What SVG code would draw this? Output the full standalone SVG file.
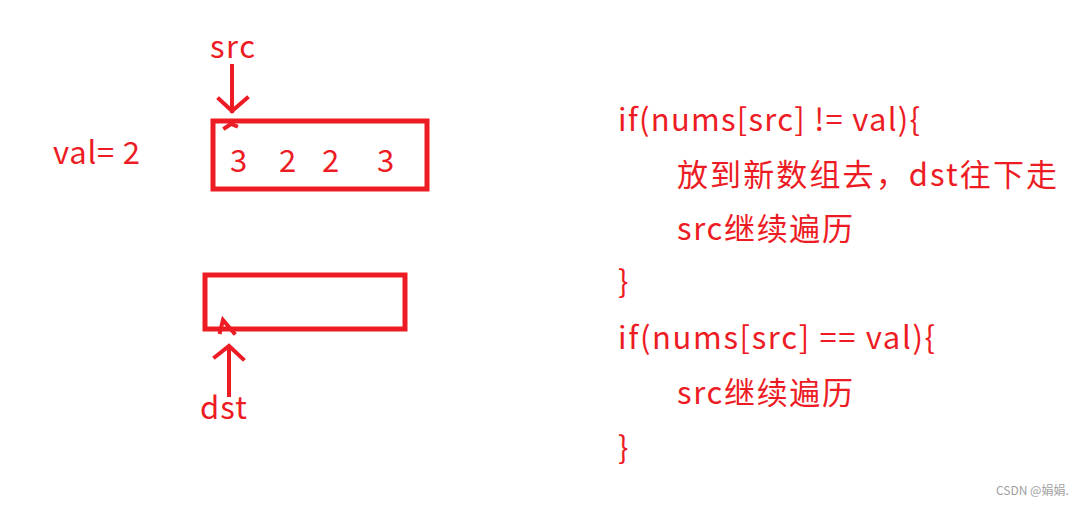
<svg xmlns="http://www.w3.org/2000/svg" width="1087" height="506" viewBox="0 0 1087 506">
<style>
.t{font-family:"Microsoft YaHei","Noto Sans CJK SC","Noto Sans",sans-serif;fill:#ed1c24;font-size:31px}
.s{fill:none;stroke:#ed1c24;stroke-width:4;stroke-linecap:square}
.b{fill:none;stroke:#ed1c24;stroke-width:5}
.w{font-family:"Noto Sans CJK SC","Liberation Sans",sans-serif;fill:#a0a0a0;font-size:12px}
</style>
<rect width="1087" height="506" fill="#fff"/>
<text class="t" x="53" y="164" textLength="87" lengthAdjust="spacing">val= 2</text>
<g id="src">
<text class="t" x="210" y="58" textLength="45" lengthAdjust="spacing">src</text>
</g>
<g id="array">
<rect class="b" x="213" y="121" width="214" height="68"/>
<text class="t" x="230" y="172">3</text>
<text class="t" x="279" y="172">2</text>
<text class="t" x="322" y="172">2</text>
<text class="t" x="377" y="172">3</text>
</g>
<g id="newarray">
<rect class="b" x="205" y="275" width="200" height="54"/>
</g>
<g id="dst">
<text class="t" x="200" y="419" textLength="47" lengthAdjust="spacing">dst</text>
</g>
<g id="connectors">
<path class="s" stroke-width="3" d="M232 66 V111 M219 99 L232 111 L247 98"/>
<path class="s" stroke-width="3" d="M225 128 L231 124 L236 126"/>
<path class="s" d="M229 395 V347 M215 357 L229 346 L243 359"/>
<path class="s" stroke-width="3" d="M220 332 L223 320 L234 333"/>
</g>
<g id="code">
<text class="t" x="618" y="131" textLength="302" lengthAdjust="spacing">if(nums[src] != val){</text>
<text class="t" x="677" y="186" textLength="380" lengthAdjust="spacing">放到新数组去，dst往下走</text>
<text class="t" x="677" y="240" textLength="176" lengthAdjust="spacing">src继续遍历</text>
<text class="t" x="618" y="293">}</text>
<text class="t" x="618" y="349" textLength="317" lengthAdjust="spacing">if(nums[src] == val){</text>
<text class="t" x="677" y="404" textLength="176" lengthAdjust="spacing">src继续遍历</text>
<text class="t" x="618" y="459">}</text>
</g>
<text class="w" x="996" y="495">CSDN @娟娟.</text>
</svg>
